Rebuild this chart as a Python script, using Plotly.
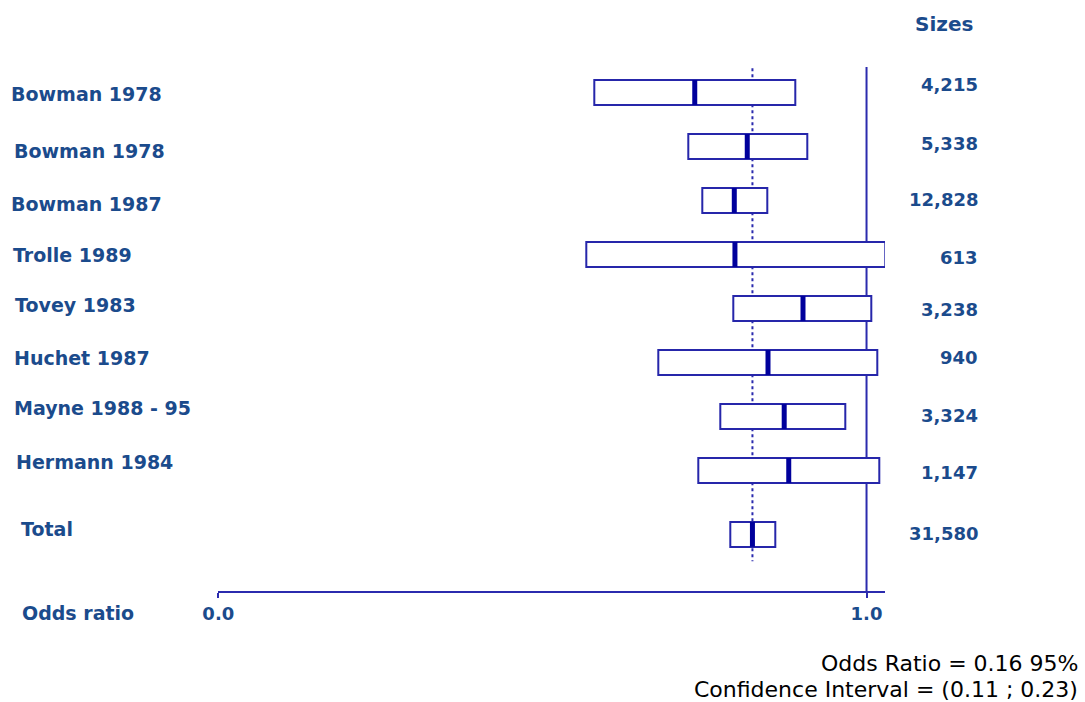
import plotly.graph_objects as go

# ---- data -------------------------------------------------------------
studies = ["Bowman 1978", "Bowman 1978", "Bowman 1987", "Trolle 1989",
           "Tovey 1983", "Huchet 1987", "Mayne 1988 - 95", "Hermann 1984"]
sizes = ["4,215", "5,338", "12,828", "613", "3,238", "940", "3,324", "1,147"]
or_low = [0.580, 0.725, 0.747, 0.568, 0.794, 0.679, 0.775, 0.741]
or_mid = [0.735, 0.816, 0.796, 0.797, 0.902, 0.848, 0.873, 0.880]
or_high = [0.890, 0.909, 0.847, 1.029, 1.007, 1.017, 0.967, 1.019]

total_label = "Total"
total_size = "31,580"
total_low, total_mid, total_high = 0.790, 0.824, 0.859

tick_vals = [0.0, 1.0]
tick_text = ["0.0", "1.0"]
size_header = "Sizes"
axis_title = "Odds ratio"
summary_lines = ["Odds Ratio = 0.16 95%", "Confidence Interval = (0.11 ; 0.23)"]

# ---- styling ----------------------------------------------------------
W, H = 1085, 702
TEXT = "#1B4B8C"
BOX_LINE = "#2626AA"
MEDIAN = "#00009C"
AXIS = "#2B2BAE"
LABEL_FONT = dict(family="DejaVu Sans", size=19, color=TEXT, weight="bold")
NUMBER_FONT = dict(family="DejaVu Sans", size=18, color=TEXT, weight="bold")
HEADER_FONT = dict(family="DejaVu Sans", size=20, color=TEXT, weight="bold")

# row positions (in row units): studies one per row, total after a gap
rows = list(range(len(studies)))
total_row = len(studies) + 0.18
box_half = 0.232

# label placement (pixels from the top-left corner)
label_x = [9, 11.5, 9, 10.5, 12.5, 11.5, 11.5, 13.5, 18.5]
label_y = [94.5, 151, 204, 255, 305.5, 357.5, 407.5, 461.5, 528.5]
size_y = [84.5, 144, 200, 257, 309, 357.5, 415.5, 472.5, 533.5]
size_right = 980

all_rows = rows + [total_row]
all_low = or_low + [total_low]
all_mid = or_mid + [total_mid]
all_high = or_high + [total_high]

fig = go.Figure()

# confidence-interval boxes as floating horizontal bars
fig.add_trace(go.Bar(
    orientation="h",
    y=all_rows,
    base=all_low,
    x=[h - l for l, h in zip(all_low, all_high)],
    width=2 * box_half,
    marker=dict(color="white", line=dict(color=BOX_LINE, width=2)),
    hoverinfo="skip",
    showlegend=False,
))

shapes = []
# point estimates
for r, m in zip(all_rows, all_mid):
    shapes.append(dict(type="line", xref="x", yref="y", x0=m, x1=m,
                       y0=r - box_half, y1=r + box_half,
                       line=dict(color=MEDIAN, width=5)))
# pooled estimate (dotted)
shapes.append(dict(type="line", xref="x", yref="y", x0=total_mid, x1=total_mid,
                   y0=rows[0] - 0.45, y1=total_row + 0.5,
                   line=dict(color=AXIS, width=2, dash="dot"), layer="below"))
# line of no effect
shapes.append(dict(type="line", xref="x", yref="y", x0=1.0, x1=1.0,
                   y0=rows[0] - 0.47, y1=9.237,
                   line=dict(color=AXIS, width=2), layer="below"))
fig.update_layout(shapes=shapes)

annotations = []
for name, x, y in zip(studies + [total_label], label_x, label_y):
    annotations.append(dict(text=name, xref="paper", yref="paper",
                            x=x / W, y=1 - y / H, xanchor="left", yanchor="middle",
                            showarrow=False, font=LABEL_FONT))
annotations.append(dict(text=axis_title, xref="paper", yref="paper",
                        x=20 / W, y=1 - 612.5 / H, xanchor="left", yanchor="middle",
                        showarrow=False, font=LABEL_FONT))
for s, y in zip(sizes + [total_size], size_y):
    annotations.append(dict(text=s, xref="paper", yref="paper",
                            x=size_right / W, y=1 - y / H, xanchor="right",
                            yanchor="middle", showarrow=False, font=NUMBER_FONT))
annotations.append(dict(text=size_header, xref="paper", yref="paper",
                        x=975 / W, y=1 - 24 / H, xanchor="right", yanchor="middle",
                        showarrow=False, font=HEADER_FONT))
for line, y in zip(summary_lines, [663.5, 689.5]):
    annotations.append(dict(text=line, xref="paper", yref="paper",
                            x=1080 / W, y=1 - y / H, xanchor="right", yanchor="middle",
                            showarrow=False,
                            font=dict(family="DejaVu Sans", size=22, color="#000000")))
fig.update_layout(annotations=annotations)

axis_px_left, axis_px_right, axis_px_y = 218.3, 885.0, 591.3
fig.update_layout(
    width=W, height=H,
    margin=dict(l=0, r=0, t=0, b=0, pad=0),
    paper_bgcolor="white", plot_bgcolor="white",
    bargap=0,
    xaxis=dict(
        domain=[axis_px_left / W, axis_px_right / W],
        range=[0, 1.0285],
        automargin=False,
        showgrid=False, zeroline=False,
        showline=True, linecolor=AXIS, linewidth=2,
        ticks="outside", ticklen=5, tickwidth=2, tickcolor=AXIS,
        tickvals=tick_vals, ticktext=tick_text,
        tickfont=dict(family="DejaVu Sans", size=18, color=TEXT, weight="bold"),
    ),
    yaxis=dict(
        domain=[(H - axis_px_y) / H, 1],
        range=[9.237, -1.713],
        automargin=False,
        visible=False, showgrid=False, zeroline=False,
    ),
)

fig.write_html("out.html")
